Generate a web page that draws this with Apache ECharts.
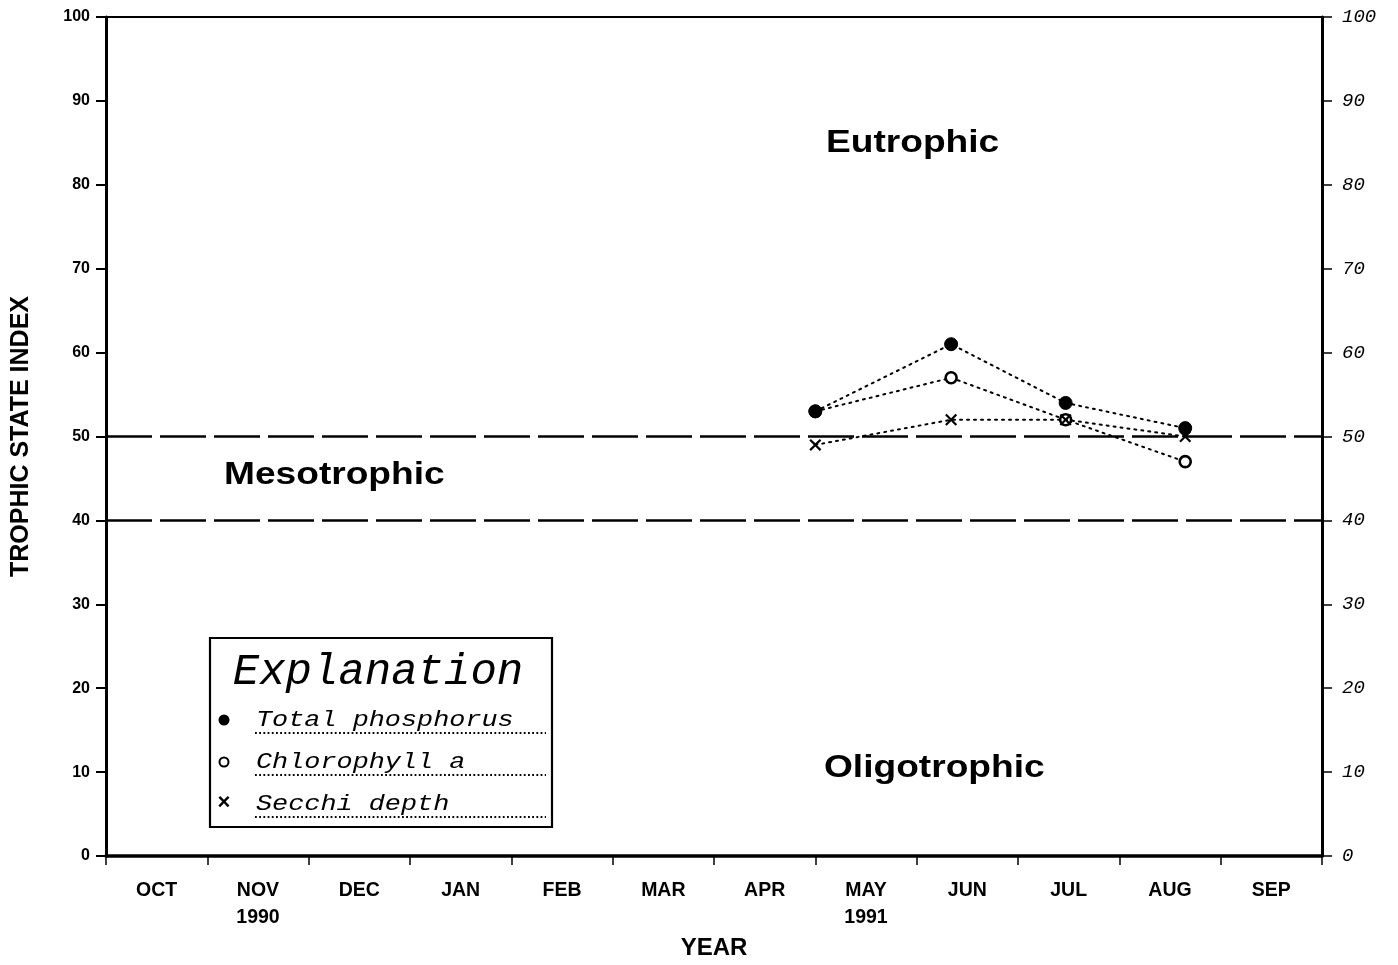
<!DOCTYPE html>
<html>
<head>
<meta charset="utf-8">
<script src="https://cdn.jsdelivr.net/npm/echarts@6/dist/echarts.min.js"></script>
<style>
  html, body { margin: 0; padding: 0; background: #fff; }
  #chart { width: 1398px; height: 965px; }
</style>
</head>
<body>
<div id="chart"></div>
<script>
// Month labels for the water year Oct 1990 - Sep 1991
const monthLabels = ['OCT', 'NOV\n1990', 'DEC', 'JAN', 'FEB', 'MAR', 'APR', 'MAY\n1991', 'JUN', 'JUL', 'AUG', 'SEP'];
// Sampling dates, in months since Oct 1, 1990
const sampleMonths = [7.0, 8.34, 9.47, 10.65];
// Trophic state index values
const totalPhosphorus = [53, 61, 54, 51];
const chlorophyllA = [53, 57, 52, 47];
const secchiDepth = [49, 52, 52, 50];
// Class boundaries
const boundaries = [50, 40];

const pair = (vals) => sampleMonths.map((m, i) => [m, vals[i]]);

const crossPath = 'path://M0,1.3 L1.3,0 L5,3.7 L8.7,0 L10,1.3 L6.3,5 L10,8.7 L8.7,10 L5,6.3 L1.3,10 L0,8.7 L3.7,5 Z';
const dotted = { color: '#000', width: 2, type: [2, 5], cap: 'round' };
const boldFont = 'Liberation Sans, Arial, sans-serif';
const monoFont = 'Liberation Mono, Courier New, monospace';

// wide bold label drawn at (x, y) top-left
const zoneLabel = (text, x, y) => ({
  type: 'text', x: x, y: y, scaleX: 1.16,
  style: { text: text, font: 'bold 32px ' + boldFont, fill: '#000' }
});
// legend entry text with its dotted underline
const legendEntry = (text, y) => ([
  { type: 'text', x: 256, y: y, z: 11, scaleX: 1.22,
    style: { text: text, font: 'italic 22px ' + monoFont, fill: '#000', verticalAlign: 'middle' } },
  { type: 'line', z: 11, shape: { x1: 255, y1: y + 13, x2: 546, y2: y + 13 },
    style: { stroke: '#000', lineWidth: 1.8, lineDash: [1.8, 2.4] } }
]);

const chart = echarts.init(document.getElementById('chart'));
chart.setOption({
  animation: false,
  backgroundColor: '#fff',
  grid: { left: 106, right: 76, top: 17, bottom: 109, show: true, borderColor: '#000', borderWidth: 2, backgroundColor: 'transparent' },
  xAxis: [
    {
      type: 'value', min: 0, max: 12, interval: 1,
      axisLine: { show: true, lineStyle: { color: '#000', width: 3.5 } },
      axisTick: { show: true, length: 9, lineStyle: { color: '#000', width: 1.5 } },
      axisLabel: { show: false },
      splitLine: { show: false },
      name: 'YEAR', nameLocation: 'middle', nameGap: 80,
      nameTextStyle: { fontFamily: boldFont, fontWeight: 'bold', fontSize: 24, color: '#000' }
    },
    {
      type: 'category', data: monthLabels, position: 'bottom', boundaryGap: true,
      axisLine: { show: false }, axisTick: { show: false },
      axisLabel: { margin: 21, fontFamily: boldFont, fontWeight: 'bold', fontSize: 19.5, color: '#000', lineHeight: 27 }
    }
  ],
  yAxis: [
    {
      type: 'value', min: 0, max: 100, interval: 10, position: 'left',
      axisLine: { show: true, lineStyle: { color: '#000', width: 3 } },
      axisTick: { show: true, length: 10, lineStyle: { color: '#000', width: 2 } },
      axisLabel: { margin: 16, fontFamily: boldFont, fontWeight: 'bold', fontSize: 16, color: '#000' },
      splitLine: { show: false },
      name: 'TROPHIC STATE INDEX', nameLocation: 'middle', nameGap: 72, nameRotate: 90,
      nameTextStyle: { fontFamily: boldFont, fontWeight: 'bold', fontSize: 25, color: '#000' }
    },
    {
      type: 'value', min: 0, max: 100, interval: 10, position: 'right',
      axisLine: { show: true, lineStyle: { color: '#000', width: 3 } },
      axisTick: { show: true, length: 10, lineStyle: { color: '#000', width: 1.5 } },
      axisLabel: { margin: 20, fontFamily: monoFont, fontStyle: 'italic', fontSize: 19, color: '#000' },
      splitLine: { show: false }
    }
  ],
  series: [
    {
      name: 'Total phosphorus', type: 'line', data: pair(totalPhosphorus),
      symbol: 'circle', symbolSize: 13,
      itemStyle: { color: '#000', borderColor: '#000' },
      lineStyle: dotted, z: 5,
      markLine: {
        silent: true, symbol: 'none', label: { show: false },
        lineStyle: { color: '#000', width: 2.5, type: [46, 8] },
        data: boundaries.map(v => ({ yAxis: v }))
      }
    },
    {
      name: 'Chlorophyll a', type: 'line', data: pair(chlorophyllA),
      symbol: 'circle', symbolSize: 11,
      itemStyle: { color: '#fff', borderColor: '#000', borderWidth: 2.6 },
      lineStyle: dotted, z: 4
    },
    {
      name: 'Secchi depth', type: 'line', data: pair(secchiDepth),
      symbol: crossPath, symbolSize: 12,
      itemStyle: { color: '#000' },
      lineStyle: dotted, z: 6
    }
  ],
  graphic: [
    zoneLabel('Eutrophic', 826, 127),
    zoneLabel('Mesotrophic', 224, 459),
    zoneLabel('Oligotrophic', 824, 752),
    // Explanation box
    { type: 'rect', shape: { x: 210, y: 638, width: 342, height: 189 }, style: { fill: '#fff', stroke: '#000', lineWidth: 2.2 }, z: 10 },
    { type: 'text', x: 378, y: 672, z: 11, style: { text: 'Explanation', font: 'italic 44px ' + monoFont, fill: '#000', align: 'center', verticalAlign: 'middle' } },
    { type: 'circle', shape: { cx: 224, cy: 720, r: 5.5 }, style: { fill: '#000' }, z: 11 },
    { type: 'circle', shape: { cx: 224, cy: 762, r: 4.5 }, style: { fill: '#fff', stroke: '#000', lineWidth: 2 }, z: 11 },
    { type: 'text', x: 224, y: 803, z: 11, style: { text: '×', font: 'bold 22px ' + boldFont, fill: '#000', align: 'center', verticalAlign: 'middle' } },
    ...legendEntry('Total phosphorus', 720),
    ...legendEntry('Chlorophyll a', 762),
    ...legendEntry('Secchi depth', 804)
  ]
});
</script>
</body>
</html>
